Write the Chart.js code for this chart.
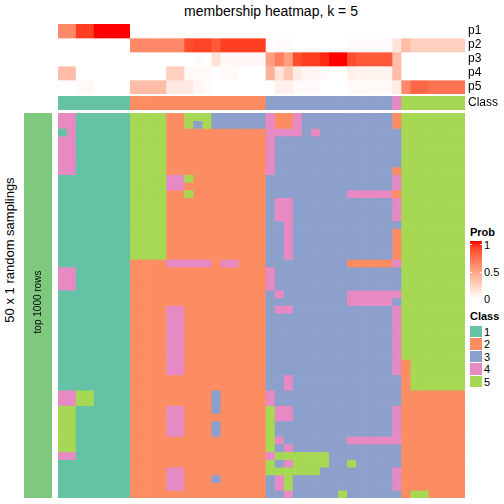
<!DOCTYPE html>
<html>
<head>
<meta charset="utf-8">
<script src="https://cdn.jsdelivr.net/npm/chart.js@4/dist/chart.umd.min.js"></script>
<style>
  body { margin: 0; background: #fff; width: 504px; height: 504px; position: relative; overflow: hidden;
         font-family: "Liberation Sans", Arial, Helvetica, sans-serif; color: #000; }
  canvas { position: absolute; }
  .t { position: absolute; white-space: nowrap; }
  .rot { transform: rotate(-90deg); text-align: center; }
  .sw { position: absolute; left: 470px; width: 12px; }
</style>
</head>
<body>
<div class="t" style="left:121px;width:300px;top:3px;text-align:center;font-size:14px">membership heatmap, k = 5</div>
<div class="t rot" style="left:-90px;top:242px;width:200px;height:16px;line-height:16px;font-size:13px">50 x 1 random samplings</div>

<canvas id="probAnno" width="446" height="70" style="left:58px;top:24px"></canvas>
<canvas id="classAnno" width="446" height="14" style="left:58px;top:96px"></canvas>
<canvas id="rowAnno" width="28" height="385" style="left:24px;top:113px"></canvas>
<canvas id="mainHeat" width="407" height="385" style="left:58px;top:113px"></canvas>
<div class="t rot" style="left:-22px;top:296px;width:120px;height:12px;line-height:12px;font-size:10px">top 1000 rows</div>

<div id="legend"></div>

<script>
// columns = 45 samples, ordered by class
const columns = Array.from({ length: 45 }, (_, i) => 'S' + (i + 1));
const classNames = ['1', '2', '3', '4', '5'];
const classColors = ['#66C2A5', '#FC8D62', '#8DA0CB', '#E78AC3', '#A6D854'];
const rowGroupColor = '#7FC97F';

// membership probability per class (top annotation)
const p1 = [0.6, 0.6, 0.9, 0.9, 1, 1, 1, 1,
  0, 0, 0, 0, 0, 0, 0, 0, 0, 0, 0, 0, 0, 0, 0,
  0, 0, 0, 0, 0, 0, 0, 0, 0, 0, 0, 0, 0, 0, 0,
  0, 0, 0, 0, 0, 0, 0];
const p2 = [0, 0, 0, 0, 0, 0, 0, 0,
  0.6, 0.6, 0.6, 0.6, 0.6, 0.6, 0.85, 0.88, 0.88, 0.8, 0.9, 0.9, 0.9, 0.9, 0.9,
  0, 0.02, 0.02, 0, 0, 0, 0, 0, 0, 0.02, 0.02, 0.02, 0.02, 0.02, 0.15,
  0.35, 0.25, 0.25, 0.25, 0.25, 0.25, 0.25];
const p3 = [0, 0, 0, 0, 0, 0, 0, 0,
  0, 0, 0, 0, 0, 0, 0, 0.02, 0, 0.15, 0.04, 0.04, 0.04, 0.04, 0.04,
  0.5, 0.65, 0.5, 0.85, 0.9, 0.9, 0.95, 1, 1, 0.85, 0.8, 0.8, 0.8, 0.8, 0.35,
  0, 0, 0, 0, 0, 0, 0];
const p4 = [0.35, 0.35, 0, 0, 0, 0, 0, 0,
  0, 0, 0, 0, 0.25, 0.25, 0.03, 0.03, 0.03, 0, 0.03, 0.03, 0, 0, 0,
  0.4, 0.15, 0.3, 0.1, 0.05, 0.05, 0.03, 0, 0, 0.08, 0.06, 0.06, 0.06, 0.06, 0.35,
  0, 0, 0, 0, 0, 0, 0];
const p5 = [0, 0, 0.03, 0.03, 0, 0, 0, 0,
  0.35, 0.35, 0.35, 0.35, 0.12, 0.12, 0.12, 0.05, 0.03, 0, 0, 0, 0, 0, 0,
  0, 0.08, 0.08, 0.02, 0.02, 0.02, 0, 0, 0, 0.03, 0.03, 0.03, 0.03, 0.03, 0.1,
  0.6, 0.75, 0.75, 0.7, 0.7, 0.7, 0.7];

// consensus class per column
const sampleClass = [1, 1, 1, 1, 1, 1, 1, 1,
  2, 2, 2, 2, 2, 2, 2, 2, 2, 2, 2, 2, 2, 2, 2,
  3, 3, 3, 3, 3, 3, 3, 3, 3, 3, 3, 3, 3, 3,
  4,
  5, 5, 5, 5, 5, 5, 5];

// 50 random samplings x 45 columns, class of each cell (groups of columns split by spaces)
const membership = [
  "44111111 5555 22555333333 422433333333332 5555555",
  "44111111 5555 22535333333 422433333333332 5555555",
  "14111111 5555 22222222222 444434333333333 5555555",
  "44111111 5555 22222222222 433333333333333 5555555",
  "44111111 5555 22222222222 433333333333333 5555555",
  "44111111 5555 22222222222 433333333333333 5555555",
  "44111111 5555 22222222222 433333333333333 5555555",
  "44111111 5555 22222222222 433333333333332 5555555",
  "11111111 5555 44522222222 333333333333334 5555555",
  "11111111 5555 44222222222 333333333333334 5555555",
  "11111111 5555 22522222222 333333333444442 5555555",
  "11111111 5555 22222222222 344333333333334 5555555",
  "11111111 5555 22222222222 344333333333334 5555555",
  "11111111 5555 22222222222 344333333333334 5555555",
  "11111111 5555 22222222222 334333333333333 5555555",
  "11111111 5555 22222222222 334333333333332 5555555",
  "11111111 5555 22222222222 334333333333332 5555555",
  "11111111 5555 22222222222 334333333333332 5555555",
  "11111111 5555 22222222222 334333333333332 5555555",
  "11111111 2222 44444244222 333333333222224 5555555",
  "44111111 2222 22222222222 433333333333333 5555555",
  "44111111 2222 22222222222 433333333333333 5555555",
  "44111111 2222 22222222222 433333333333333 5555555",
  "11111111 2222 22222222222 343333333444444 5555555",
  "11111111 2222 22222222222 333333333444443 5555555",
  "11111111 2222 44222222222 344333333333334 5555555",
  "11111111 2222 44222222222 333333333333334 5555555",
  "11111111 2222 44222222222 333333333333334 5555555",
  "11111111 2222 44222222222 333333333333334 5555555",
  "11111111 2222 44222222222 333333333333334 5555555",
  "11111111 2222 44222222222 333333333333334 5555555",
  "11111111 2222 44222222222 333333333333334 5555555",
  "11111111 2222 44222222222 333333333333334 2555555",
  "11111111 2222 44222222222 333333333333334 2555555",
  "11111111 2222 22222222222 334333333333333 2555555",
  "11111111 2222 22222222222 334333333333333 2555555",
  "44551111 2222 22222322222 433333333333333 2222222",
  "44551111 2222 22222322222 433333333333333 2222222",
  "55111111 2222 44222322222 544333333333334 2222222",
  "55111111 2222 44222222222 544333333333334 2222222",
  "55111111 2222 44222322222 533333333333334 2222222",
  "55111111 2222 44222322222 533333333333334 2222222",
  "55111111 2222 22222222222 543333333444444 2222222",
  "55111111 2222 22222222222 534333333333333 2222222",
  "44111111 2222 22222222222 455555533333333 2222222",
  "11111111 2222 22222222222 534555533533333 2222222",
  "11111111 2222 44222222222 555555333333334 2222222",
  "11111111 2222 44222322222 345333333333334 2222222",
  "11111111 2222 44222222222 345333333333334 2222222",
  "11111111 2222 22222222222 334333335333333 2552222"
];

// white -> red, interpolated in LAB like colorRamp2
function toLin(c) { c /= 255; return c <= 0.04045 ? c / 12.92 : Math.pow((c + 0.055) / 1.055, 2.4); }
function toSrgb(c) { c = Math.max(0, Math.min(1, c)); return Math.round(255 * (c <= 0.0031308 ? 12.92 * c : 1.055 * Math.pow(c, 1 / 2.4) - 0.055)); }
function rgbToLab(rgb) {
    const [R, G, B] = rgb.map(toLin);
    const X = (0.4124 * R + 0.3576 * G + 0.1805 * B) / 0.95047;
    const Y = 0.2126 * R + 0.7152 * G + 0.0722 * B;
    const Z = (0.0193 * R + 0.1192 * G + 0.9505 * B) / 1.08883;
    const f = t => t > 0.008856 ? Math.cbrt(t) : 7.787 * t + 16 / 116;
    return [116 * f(Y) - 16, 500 * (f(X) - f(Y)), 200 * (f(Y) - f(Z))];
}
function labToRgb([L, a, b]) {
    const fy = (L + 16) / 116, fx = fy + a / 500, fz = fy - b / 200;
    const fi = t => t * t * t > 0.008856 ? t * t * t : (t - 16 / 116) / 7.787;
    const X = fi(fx) * 0.95047, Y = fi(fy), Z = fi(fz) * 1.08883;
    const R = 3.2406 * X - 1.5372 * Y - 0.4986 * Z;
    const G = -0.9689 * X + 1.8758 * Y + 0.0415 * Z;
    const B = 0.0557 * X - 0.2040 * Y + 1.0570 * Z;
    return `rgb(${toSrgb(R)},${toSrgb(G)},${toSrgb(B)})`;
}
const LAB0 = rgbToLab([255, 255, 255]), LAB1 = rgbToLab([255, 0, 0]);
function probColor(p) { return labToRgb(LAB0.map((v, i) => v + (LAB1[i] - v) * p)); }

const FONT = '"Liberation Sans", Arial, Helvetica, sans-serif';

// stacked bars: one dataset per heatmap row, one bar per column
function heatmap(id, labels, rowColors, rowLabels) {
    const scales = {
        x: { stacked: true, display: false },
        y: { stacked: true, display: false, min: 0, max: rowColors.length, reverse: true }
    };
    if (rowLabels) {
        scales.yLab = {
            type: 'category', labels: rowLabels, position: 'right', offset: true,
            grid: { display: false, drawTicks: false }, border: { display: false },
            ticks: { color: '#000', padding: 3, autoSkip: false, font: { family: FONT, size: 12 } },
            // labels sit beside the rows, so they must not shrink the plot area
            afterFit: s => { s.width = 39; s.paddingTop = 0; s.paddingBottom = 0; }
        };
    }
    return new Chart(document.getElementById(id), {
        type: 'bar',
        data: {
            labels,
            datasets: rowColors.map(cols => ({
                data: cols.map(() => 1), backgroundColor: cols, borderWidth: 0,
                barPercentage: 1, categoryPercentage: 1
            }))
        },
        options: {
            responsive: false, animation: false, events: [],
            layout: { padding: 0 },
            plugins: { legend: { display: false }, tooltip: { enabled: false } },
            scales
        }
    });
}

const probRows = [p1, p2, p3, p4, p5];
heatmap('probAnno', columns, probRows.map(r => r.map(probColor)), ['p1', 'p2', 'p3', 'p4', 'p5']);
heatmap('classAnno', columns, [sampleClass.map(c => classColors[c - 1])], ['Class']);
heatmap('rowAnno', ['top 1000 rows'], [[rowGroupColor]]);

const cells = membership.map(s => s.replace(/ /g, '').split('').map(Number));
heatmap('mainHeat', columns, cells.map(r => r.map(c => classColors[c - 1])));

// legends
const lg = document.getElementById('legend');
const stops = [0, 0.1, 0.2, 0.3, 0.4, 0.5, 0.6, 0.7, 0.8, 0.9, 1].map(v => probColor(v) + ' ' + (v * 100) + '%').join(',');
let html = `<div class="t" style="left:470px;top:226px;font-size:11px;font-weight:bold">Prob</div>
  <div class="sw" style="top:241px;height:58px;background:linear-gradient(to top,${stops})"></div>`;
[[1, 244.5], [0.5, 272], [0, 299]].forEach(([v, y]) => {
    if (v > 0) {
        html += `<div class="t" style="left:470px;top:${y - 0.5}px;width:2px;height:1px;background:#fff"></div>`;
        html += `<div class="t" style="left:480px;top:${y - 0.5}px;width:2px;height:1px;background:#fff"></div>`;
    }
    html += `<div class="t" style="left:484px;top:${y - 7}px;font-size:11px;line-height:14px">${v}</div>`;
});
html += `<div class="t" style="left:470px;top:310px;font-size:11px;font-weight:bold">Class</div>`;
classNames.forEach((n, i) => {
    const top = 325.5 + i * 12.6;
    html += `<div class="sw" style="top:${top}px;height:11.6px;background:${classColors[i]}"></div>`;
    html += `<div class="t" style="left:484px;top:${top - 1}px;font-size:11px;line-height:14px">${n}</div>`;
});
lg.innerHTML = html;
</script>
</body>
</html>
